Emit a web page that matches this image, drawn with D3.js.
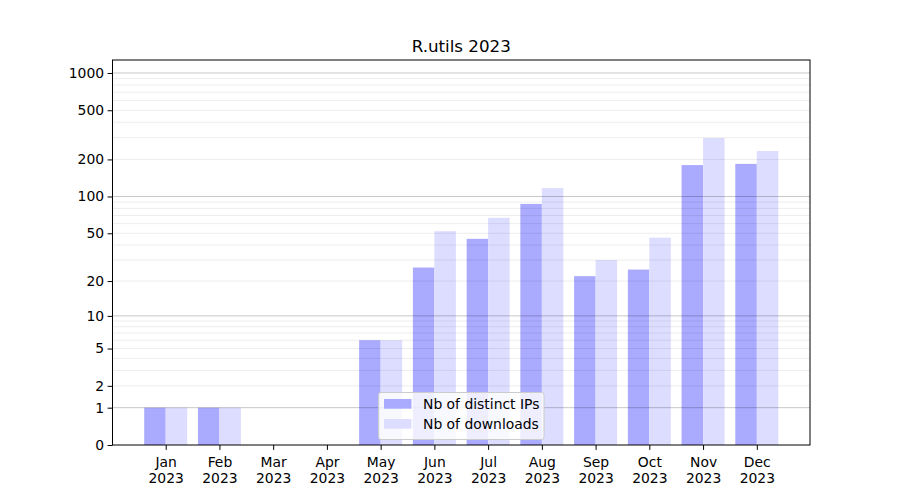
<!DOCTYPE html>
<html>
<head>
<meta charset="utf-8">
<script src="https://cdn.jsdelivr.net/npm/d3@7"></script>
<style>
  body { margin: 0; background: #fff; }
  svg { display: block; font-family: "DejaVu Sans", sans-serif; }
</style>
</head>
<body>
<svg id="chart" width="900" height="500"></svg>
<script>
const months = ["Jan","Feb","Mar","Apr","May","Jun","Jul","Aug","Sep","Oct","Nov","Dec"];
const year = "2023";
const distinctIPs = [1, 1, 0, 0, 6, 26, 45, 87, 22, 25, 180, 184];
const downloads   = [1, 1, 0, 0, 6, 52, 67, 117, 30, 46, 298, 234];
const yTicks = [0, 1, 2, 5, 10, 20, 50, 100, 200, 500, 1000];
const majorGrid = [1, 10, 100, 1000];
const minorGrid = [2,3,4,5,6,7,8,9,20,30,40,50,60,70,80,90,200,300,400,500,600,700,800,900];
const title = "R.utils 2023";
const seriesNames = ["Nb of distinct IPs", "Nb of downloads"];
const colors = ["#aaaaff", "#ddddff"];

const svg = d3.select("#chart");
const L = 112.5, R = 810, T = 60, B = 445;
const FS = "13.9px";

const x = d3.scaleLinear().domain([-0.99, 11.99]).range([L, R]);
const y = d3.scaleSymlog().constant(1).domain([0, 1273]).range([B, T]);
const bw = 0.4;

// bars
const series = [distinctIPs, downloads];
series.forEach((vals, s) => {
  svg.append("g").selectAll("rect").data(vals).join("rect")
    .attr("x", (d, i) => x(i - bw + s * bw))
    .attr("width", x(bw) - x(0))
    .attr("y", d => y(d))
    .attr("height", d => y(0) - y(d))
    .attr("fill", colors[s]);
});

// grid (drawn over bars)
const grid = svg.append("g");
grid.selectAll("line.minor").data(minorGrid).join("line")
  .attr("class", "minor")
  .attr("x1", L).attr("x2", R)
  .attr("y1", d => y(d)).attr("y2", d => y(d))
  .attr("stroke", "rgba(0,0,0,0.075)").attr("stroke-width", 1);
grid.selectAll("line.major").data(majorGrid).join("line")
  .attr("class", "major")
  .attr("x1", L).attr("x2", R)
  .attr("y1", d => y(d)).attr("y2", d => y(d))
  .attr("stroke", "rgba(0,0,0,0.22)").attr("stroke-width", 1);

// frame
svg.append("rect").attr("x", L).attr("y", T).attr("width", R - L).attr("height", B - T)
  .attr("fill", "none").attr("stroke", "#000").attr("stroke-width", 1);

// y axis
const yAxis = d3.axisLeft(y).tickValues(yTicks).tickSize(4.9).tickPadding(3.5).tickFormat(d3.format("d"));
const gy = svg.append("g").attr("transform", `translate(${L},0)`).call(yAxis);
gy.select(".domain").remove();
gy.selectAll("text").attr("font-size", FS).attr("fill", "#000").attr("font-family", "DejaVu Sans");
gy.selectAll("line").attr("stroke", "#000");

// x axis
const xAxis = d3.axisBottom(x).tickValues(d3.range(months.length)).tickSize(4.9).tickPadding(3.5).tickFormat(() => "");
const gx = svg.append("g").attr("transform", `translate(0,${B})`).call(xAxis);
gx.select(".domain").remove();
gx.selectAll("line").attr("stroke", "#000");
gx.selectAll(".tick").each(function(d, i) {
  const t = d3.select(this).select("text");
  t.text(null).attr("font-size", FS).attr("fill", "#000").attr("font-family", "DejaVu Sans").attr("dy", null).attr("y", 0);
  t.append("tspan").attr("x", 0).attr("y", 22).text(months[i]);
  t.append("tspan").attr("x", 0).attr("y", 37.5).text(year);
});

// title
svg.append("text").attr("x", (L + R) / 2).attr("y", 51.5).attr("text-anchor", "middle")
  .attr("font-size", "16.7px").attr("fill", "#000").text(title);

// legend
const lg = svg.append("g");
lg.append("rect").attr("x", 378.5).attr("y", 392.5).attr("width", 165.5).attr("height", 47)
  .attr("rx", 2.5).attr("fill", "rgba(255,255,255,0.8)").attr("stroke", "#cccccc");
seriesNames.forEach((n, i) => {
  const cy = 404 + i * 20;
  lg.append("rect").attr("x", 384).attr("y", cy - 5).attr("width", 27.5).attr("height", 9.7).attr("fill", colors[i]);
  lg.append("text").attr("x", 423).attr("y", cy + 5).attr("font-size", FS).attr("fill", "#000").text(n);
});
</script>
</body>
</html>
